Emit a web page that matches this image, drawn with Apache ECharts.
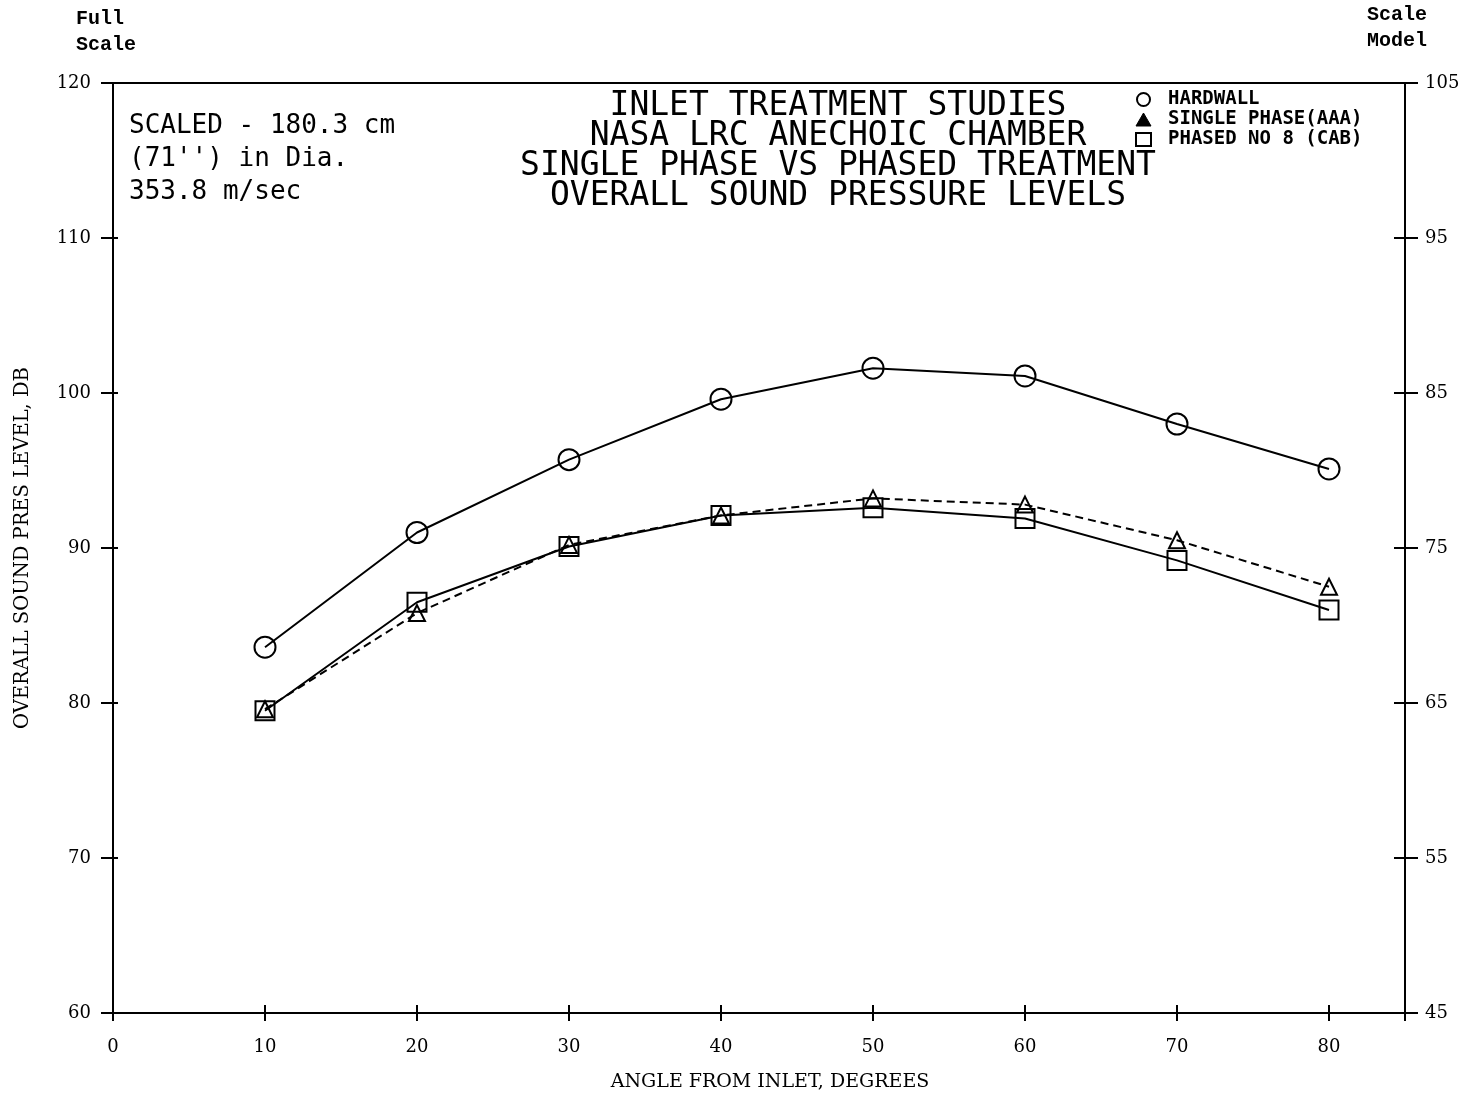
<!DOCTYPE html>
<html>
<head>
<meta charset="utf-8">
<script src="https://cdn.jsdelivr.net/npm/echarts@6/dist/echarts.min.js"></script>
<style>
  html, body { margin: 0; padding: 0; background: #fff; }
  #chart { width: 1470px; height: 1097px; }
</style>
</head>
<body>
<div id="chart"></div>
<script>
// angle from inlet, degrees
var angles = [10, 20, 30, 40, 50, 60, 70, 80]
// overall SPL, dB (full scale)
var hardwall = [83.6, 91.0, 95.7, 99.6, 101.6, 101.1, 98.0, 95.1]
var singlePhase = [79.6, 85.8, 90.2, 92.1, 93.2, 92.8, 90.5, 87.5]
var phasedNo8 = [79.5, 86.5, 90.1, 92.1, 92.6, 91.9, 89.2, 86.0]
// right axis = full scale minus this
var modelOffset = 15

var titleLines = [
  'INLET TREATMENT STUDIES',
  'NASA LRC ANECHOIC CHAMBER',
  'SINGLE PHASE VS PHASED TREATMENT',
  'OVERALL SOUND PRESSURE LEVELS'
]
var noteLines = ['SCALED - 180.3 cm', '(71\'\') in Dia.', '353.8 m/sec']

function pairs(ys) {
  return angles.map(function (a, i) { return [a, ys[i]] })
}

var serif = 'DejaVu Serif'
var plotter = 'DejaVu Sans Mono'

var chart = echarts.init(document.getElementById('chart'))

var xBase = {
  type: 'value', min: 0, max: 85, interval: 10,
  splitLine: { show: false }
}
var yBase = {
  type: 'value', min: 60, max: 120, interval: 10,
  splitLine: { show: false }
}
var axisLine = { show: true, onZero: false, lineStyle: { color: '#000', width: 2 } }
var noLine = { show: false, onZero: false }

var option = {
  backgroundColor: '#fff',
  animation: false,
  grid: { left: 113, right: 65, top: 83, bottom: 82 },
  title: [
    {
      text: titleLines.join('\n'),
      left: 838, top: 91, textAlign: 'center', padding: 0,
      textStyle: { fontFamily: plotter, fontSize: 33, fontWeight: 'normal', lineHeight: 30, color: '#000', align: 'center' }
    },
    {
      text: noteLines.join('\n'),
      left: 129, top: 110, padding: 0,
      textStyle: { fontFamily: plotter, fontSize: 26, fontWeight: 'normal', lineHeight: 33, color: '#000' }
    },
    {
      text: 'Full\nScale',
      left: 76, top: 6, padding: 0,
      textStyle: { fontFamily: 'Liberation Mono', fontSize: 20, fontWeight: 'bold', lineHeight: 26, color: '#000' }
    },
    {
      text: 'Scale\nModel',
      right: 43, top: 2, padding: 0,
      textStyle: { fontFamily: 'Liberation Mono', fontSize: 20, fontWeight: 'bold', lineHeight: 26, color: '#000', align: 'right' }
    }
  ],
  legend: {
    orient: 'vertical',
    left: 1130, top: 85,
    itemWidth: 15, itemHeight: 13, itemGap: 1,
    textStyle: { fontFamily: plotter, fontSize: 19, fontWeight: 'bold', lineHeight: 15, color: '#000', padding: [0, 0, 0, 12] },
    data: [
      { name: 'HARDWALL', icon: 'circle', itemStyle: { color: '#fff', borderColor: '#000', borderWidth: 2 } },
      { name: 'SINGLE PHASE(AAA)', icon: 'triangle', itemStyle: { color: '#000', borderColor: '#000', borderWidth: 1 } },
      { name: 'PHASED NO 8 (CAB)', icon: 'rect', itemStyle: { color: '#fff', borderColor: '#000', borderWidth: 2 } }
    ]
  },
  xAxis: [
    Object.assign({}, xBase, {
      position: 'bottom',
      name: 'ANGLE FROM INLET, DEGREES',
      nameLocation: 'middle', nameGap: 60,
      nameTextStyle: { fontFamily: serif, fontSize: 19, color: '#000', padding: [0, 0, 0, 22] },
      axisLine: axisLine,
      axisTick: { show: true, inside: false, length: 8, lineStyle: { color: '#000', width: 2 } },
      axisLabel: {
        margin: 25, fontFamily: serif, fontSize: 18, color: '#000',
        formatter: function (v) { return v % 10 === 0 ? String(v) : '' }
      }
    }),
    Object.assign({}, xBase, {
      position: 'bottom',
      axisLine: noLine,
      axisTick: { show: true, inside: true, length: 8, lineStyle: { color: '#000', width: 2 } },
      axisLabel: { show: false }
    }),
    Object.assign({}, xBase, {
      position: 'top',
      axisLine: axisLine,
      axisTick: { show: false },
      axisLabel: { show: false }
    })
  ],
  yAxis: [
    Object.assign({}, yBase, {
      position: 'left',
      name: 'OVERALL SOUND PRES LEVEL, DB',
      nameLocation: 'middle', nameGap: 80,
      nameTextStyle: { fontFamily: serif, fontSize: 19.5, color: '#000' },
      axisLine: axisLine,
      axisTick: { show: true, inside: false, length: 12, lineStyle: { color: '#000', width: 2 } },
      axisLabel: { margin: 22, fontFamily: serif, fontSize: 18, color: '#000' }
    }),
    Object.assign({}, yBase, {
      position: 'right',
      axisLine: axisLine,
      axisTick: { show: true, inside: false, length: 13, lineStyle: { color: '#000', width: 2 } },
      axisLabel: {
        margin: 20, fontFamily: serif, fontSize: 18, color: '#000',
        formatter: function (v) { return String(v - modelOffset) }
      }
    }),
    Object.assign({}, yBase, {
      position: 'left',
      axisLine: noLine,
      axisTick: { show: true, inside: true, length: 5, lineStyle: { color: '#000', width: 2 } },
      axisLabel: { show: false }
    }),
    Object.assign({}, yBase, {
      position: 'right',
      axisLine: noLine,
      axisTick: { show: true, inside: true, length: 11, lineStyle: { color: '#000', width: 2 } },
      axisLabel: { show: false }
    })
  ],
  series: [
    {
      name: 'HARDWALL',
      type: 'line',
      data: pairs(hardwall),
      symbol: 'circle', symbolSize: 21,
      itemStyle: { color: 'rgba(0,0,0,0)', borderColor: '#000', borderWidth: 2 },
      lineStyle: { color: '#000', width: 2 }
    },
    {
      name: 'SINGLE PHASE(AAA)',
      type: 'line',
      data: pairs(singlePhase),
      symbol: 'triangle', symbolSize: 16,
      itemStyle: { color: 'rgba(0,0,0,0)', borderColor: '#000', borderWidth: 2 },
      lineStyle: { color: '#000', width: 2, type: [8, 5] }
    },
    {
      name: 'PHASED NO 8 (CAB)',
      type: 'line',
      data: pairs(phasedNo8),
      symbol: 'rect', symbolSize: 19,
      itemStyle: { color: 'rgba(0,0,0,0)', borderColor: '#000', borderWidth: 2 },
      lineStyle: { color: '#000', width: 2 }
    }
  ]
}

chart.setOption(option)
</script>
</body>
</html>
